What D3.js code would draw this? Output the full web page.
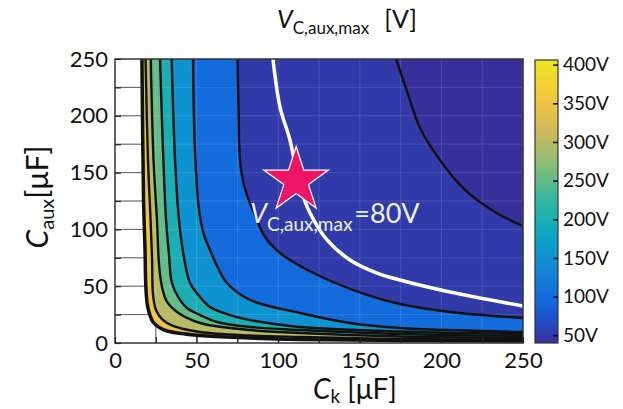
<!DOCTYPE html>
<html>
<head>
<meta charset="utf-8">
<script src="https://cdn.jsdelivr.net/npm/d3@7"></script>
<style>
  body { margin: 0; background: #fff; }
  text { font-family: Lato, "Open Sans", sans-serif; fill: #111; }
</style>
</head>
<body>
<svg id="chart" width="623" height="409"></svg>
<script>
// axis ticks
const ckTicks = [0, 25, 50, 75, 100, 125, 150, 175, 200, 225, 250]
const cauxTicks = [0, 25, 50, 75, 100, 125, 150, 175, 200, 225, 250]
const cbarTicks = [50, 100, 150, 200, 250, 300, 350, 400]
const vRange = [40, 406]

// contour levels [V] and their curves, [Ck, Caux] in uF
const levels = [400, 350, 300, 250, 200, 150, 100, 50]
const c400 = [[16.5,250],[17.5,125.9],[18.4,81.9],[19.0,46.7],[20.2,30.8],[23.3,18.5],[27.6,13.2],[31.9,10.6],[52.1,6.6],[82.7,4.4],[113.4,3.1],[174.6,2.2],[250,1.8]]
const c350 = [[18.7,250],[20.2,161.1],[21.8,108.3],[22.7,73.1],[23.3,42.3],[25.1,29.0],[28.8,21.1],[35.5,15.0],[52.1,9.7],[82.7,6.6],[113.4,5.3],[174.6,3.5],[250,2.6]]
const c300 = [[21.9,250],[23.6,161.1],[25.7,108.3],[27.0,68.7],[28.8,49.3],[31.9,36.1],[38.0,27.3],[52.1,17.6],[82.7,11.4],[113.4,8.8],[174.6,5.7],[250,4.4]]
const c250 = [[27.6,250],[29.4,169.9],[31.3,108.3],[33.1,77.5],[34.9,52.8],[39.8,37.9],[44.1,30.8],[52.1,24.6],[62.5,18.5],[82.7,14.1],[113.4,11.4],[174.6,7.9],[250,6.2]]
const c200 = [[34.7,250],[36.8,161.1],[39.2,108.3],[41.7,80.1],[46.0,52.8],[52.1,40.5],[58.2,31.7],[70.5,24.6],[82.7,20.2],[113.4,14.1],[174.6,10.1],[250,7.9]]
const c150 = [[47.8,250],[49.0,169.9],[51.5,117.1],[54.5,95.1],[58.2,81.9],[63.1,66.0],[68.6,52.8],[82.7,37.9],[113.4,26.4],[144.0,17.6],[174.6,13.2],[250,9.7]]
const c100 = [[75.1,250],[75.7,205.1],[76.6,161.1],[79.0,139.1],[82.7,123.2],[87.0,108.3],[91.9,93.3],[101.1,79.2],[113.4,67.8],[133.6,53.7],[154.4,42.3],[174.6,34.3],[205.3,27.3],[250,22.0]]
const c50 = [[172.2,250],[178.9,221.8],[186.9,189.3],[199.1,161.1],[214.5,134.7],[232.8,115.3],[250,103.0]]
// highlighted 80 V line and the marked design point
const c80 = [[96.8,250],[101.1,207.7],[107.2,178.7],[113.4,137.3],[119.5,114.4],[129.9,90.7],[144.0,73.1],[160.5,61.6],[174.6,55.5],[205.3,44.9],[250,32.6]]
const starPoint = [111, 143]

const curves = [c400, c350, c300, c250, c200, c150, c100, c50]

// parula-like map
const parulaT = [0, 0.125, 0.25, 0.375, 0.5, 0.625, 0.75, 0.875, 1]
const parulaC = ['#38309a', '#1460df', '#1484d6', '#08a6c6', '#30b7a2', '#86bf78', '#cfba5a', '#f6c83a', '#eee624']
const color = d3.scaleLinear()
    .domain(parulaT.map(t => vRange[0] + t * (vRange[1] - vRange[0])))
    .range(parulaC)
    .clamp(true)

const svg = d3.select('#chart')
const x = d3.scaleLinear().domain([0, 250]).range([115, 523])
const y = d3.scaleLinear().domain([0, 250]).range([343, 59])

svg.append('defs').append('clipPath').attr('id', 'plotClip')
    .append('rect')
    .attr('x', x(0)).attr('y', y(250))
    .attr('width', x(250) - x(0)).attr('height', y(0) - y(250))

const plot = svg.append('g').attr('clip-path', 'url(#plotClip)')

function drawGrid(g, stroke, opacity) {
    g.selectAll('line.gx').data(ckTicks.slice(1, -1)).enter().append('line')
        .attr('class', 'gx')
        .attr('x1', d => x(d)).attr('x2', d => x(d))
        .attr('y1', y(0)).attr('y2', y(250))
    g.selectAll('line.gy').data(cauxTicks.slice(1, -1)).enter().append('line')
        .attr('class', 'gy')
        .attr('x1', x(0)).attr('x2', x(250))
        .attr('y1', d => y(d)).attr('y2', d => y(d))
    g.selectAll('line').attr('stroke', stroke).attr('stroke-opacity', opacity).attr('stroke-width', 1)
}

// dark grid on the white part
drawGrid(plot.append('g'), '#333', 0.9)

const line = d3.line()
    .x(d => x(d[0]))
    .y(d => y(d[1]))
    .curve(d3.curveCatmullRom.alpha(0.5))

// filled bands: region V < level, painted from the largest region down
plot.selectAll('path.band').data(curves).enter().append('path')
    .attr('class', 'band')
    .attr('d', d => line(d) + 'L' + x(250) + ',' + y(250) + 'Z')
    .attr('fill', (d, i) => color(i + 1 < levels.length ? levels[i + 1] : vRange[0]))

// faint grid over the colours
drawGrid(plot.append('g'), '#ffffff', 0.13)

// contour lines
plot.selectAll('path.iso').data(curves).enter().append('path')
    .attr('class', 'iso')
    .attr('d', d => line(d))
    .attr('fill', 'none')
    .attr('stroke', '#111')
    .attr('stroke-width', (d, i) => levels[i] === 400 ? 3.5 : 2.4)

plot.append('path')
    .attr('d', line(c80))
    .attr('fill', 'none')
    .attr('stroke', '#fff')
    .attr('stroke-width', 3.5)

// frame
svg.append('rect')
    .attr('x', x(0)).attr('y', y(250))
    .attr('width', x(250) - x(0)).attr('height', y(0) - y(250))
    .attr('fill', 'none').attr('stroke', '#333').attr('stroke-width', 1.5)

// axes
const fmt = d => d % 50 === 0 ? d : ''
const xAxis = svg.append('g')
    .attr('transform', 'translate(0,' + y(0) + ')')
    .call(d3.axisBottom(x).tickValues(ckTicks).tickFormat(fmt).tickSize(-6).tickPadding(9))
const yAxis = svg.append('g')
    .attr('transform', 'translate(' + x(0) + ',0)')
    .call(d3.axisLeft(y).tickValues(cauxTicks).tickFormat(fmt).tickSize(-6).tickPadding(7))
for (const ax of [xAxis, yAxis]) {
    ax.select('.domain').remove()
    ax.selectAll('.tick line').attr('stroke', '#222').attr('stroke-width', 1.2)
    ax.selectAll('text').attr('font-size', 22).attr('fill', '#111')
        .style('font-family', 'Lato, "Open Sans", sans-serif')
}

// star marker
svg.append('path')
    .attr('d', d3.symbol(d3.symbolStar).size(1300)())
    .attr('transform', 'translate(' + x(starPoint[0]) + ',' + y(starPoint[1]) + ')')
    .attr('fill', '#ee1466')
    .attr('stroke', '#fff').attr('stroke-width', 1.2)

// in-plot annotation
const ann = svg.append('text').attr('x', 250).attr('y', 223)
ann.append('tspan').text('V').attr('font-size', 27).attr('font-style', 'italic').style('fill', '#eef0ff')
ann.append('tspan').text('C,aux,max').attr('font-size', 19).attr('dy', 8).style('fill', '#eef0ff')
ann.append('tspan').text('=80V').attr('font-size', 27).attr('dy', -8).attr('dx', 2).style('fill', '#eef0ff')

// title
const title = svg.append('text').attr('x', 277).attr('y', 28)
title.append('tspan').text('V').attr('font-size', 25).attr('font-style', 'italic')
title.append('tspan').text('C,aux,max').attr('font-size', 17).attr('dy', 6)
title.append('tspan').text('[V]').attr('font-size', 25).attr('dy', -6).attr('dx', 15)

// x label
const xl = svg.append('text').attr('x', 313).attr('y', 399)
xl.append('tspan').text('C').attr('font-size', 28).attr('font-style', 'italic')
xl.append('tspan').text('k').attr('font-size', 19).attr('dy', 4)
xl.append('tspan').text('[μF]').attr('font-size', 28).attr('dy', -4).attr('dx', 7)

// y label
const yl = svg.append('text').attr('transform', 'translate(48,197) rotate(-90)').attr('text-anchor', 'middle')
yl.append('tspan').text('C').attr('font-size', 30).attr('font-style', 'italic')
yl.append('tspan').text('aux').attr('font-size', 20).attr('dy', 6)
yl.append('tspan').text('[μF]').attr('font-size', 30).attr('dy', -6)

// colour bar
const cy = d3.scaleLinear().domain(vRange).range([343, 60])
const grad = svg.select('defs').append('linearGradient')
    .attr('id', 'cbar').attr('x1', 0).attr('y1', 1).attr('x2', 0).attr('y2', 0)
grad.selectAll('stop').data(d3.range(0, 1.0001, 0.05)).enter().append('stop')
    .attr('offset', d => d)
    .attr('stop-color', d => color(vRange[0] + d * (vRange[1] - vRange[0])))
svg.append('rect')
    .attr('x', 535).attr('y', cy(vRange[1]))
    .attr('width', 23).attr('height', cy(vRange[0]) - cy(vRange[1]))
    .attr('fill', 'url(#cbar)').attr('stroke', '#333').attr('stroke-width', 1.2)
const cAxis = svg.append('g')
    .attr('transform', 'translate(558,0)')
    .call(d3.axisRight(cy).tickValues(cbarTicks).tickFormat(d => d + 'V').tickSize(-5).tickPadding(5))
cAxis.select('.domain').remove()
cAxis.selectAll('.tick line').attr('stroke', '#111').attr('stroke-width', 1.5)
cAxis.selectAll('text').attr('font-size', 19).attr('fill', '#111')
    .style('font-family', 'Lato, "Open Sans", sans-serif')
</script>
</body>
</html>
